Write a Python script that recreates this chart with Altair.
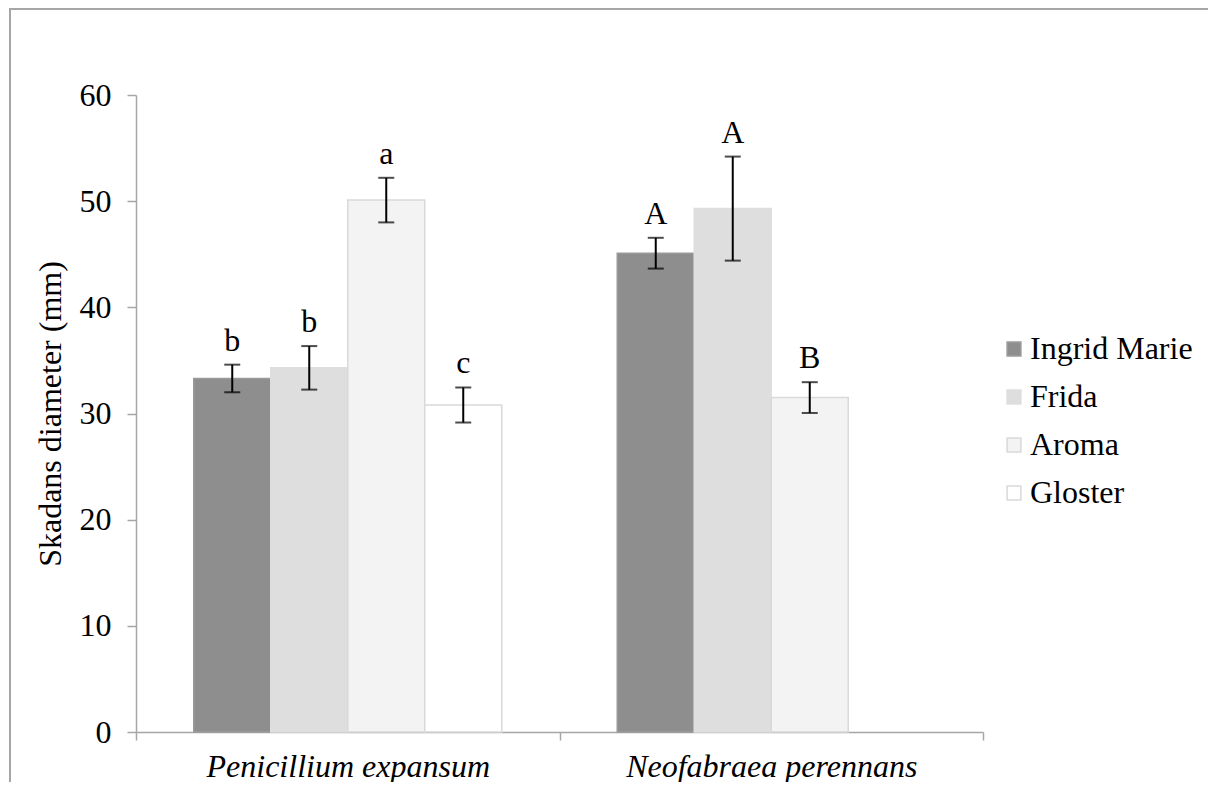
import altair as alt
import pandas as pd

pathogen_order = ["Penicillium expansum", "Neofabraea perennans"]
cultivar_order = ["Ingrid Marie", "Frida", "Aroma", "Gloster"]

pathogens = ["Penicillium expansum"] * 4 + ["Neofabraea perennans"] * 3
cultivars = ["Ingrid Marie", "Frida", "Aroma", "Gloster", "Ingrid Marie", "Frida", "Aroma"]
means = [33.3, 34.3, 50.1, 30.8, 45.1, 49.3, 31.5]
errors = [1.3, 2.05, 2.1, 1.65, 1.45, 4.9, 1.45]
letters = ["b", "b", "a", "c", "A", "A", "B"]

fill_colors = ["#8e8e8e", "#dedede", "#f3f3f3", "#ffffff"]
stroke_colors = ["#9a9a9a", "#dedede", "#d9d9d9", "#d9d9d9"]

df = pd.DataFrame({
    "pathogen": pathogens,
    "cultivar": cultivars,
    "mean": means,
    "err": errors,
    "letter": letters,
})
df["lo"] = df["mean"] - df["err"]
df["hi"] = df["mean"] + df["err"]

FONT = "Liberation Serif"
AXIS_GRAY = "#a6a6a6"
FS = 32

x_enc = alt.X(
    "pathogen:N", sort=pathogen_order,
    scale=alt.Scale(domain=pathogen_order, paddingInner=0, paddingOuter=0),
    axis=alt.Axis(
        title=None, labelAngle=0, labelFontStyle="italic", tickBand="extent",
        tickSize=8, labelPadding=11, labelLimit=600,
    ),
)
xoff_enc = alt.XOffset(
    "cultivar:N", sort=cultivar_order,
    scale=alt.Scale(domain=cultivar_order, paddingInner=0, paddingOuter=0.75),
)
y_scale = alt.Scale(domain=[0, 60], nice=False)
y_axis = alt.Axis(
    title="Skadans diameter (mm)", values=[0, 10, 20, 30, 40, 50, 60],
    tickSize=9, labelPadding=16, titlePadding=12,
)

base = alt.Chart(df).encode(x=x_enc, xOffset=xoff_enc)

bars = base.mark_bar(strokeWidth=1.5).encode(
    y=alt.Y("mean:Q", scale=y_scale, axis=y_axis),
    fill=alt.Fill("cultivar:N", sort=cultivar_order,
                  scale=alt.Scale(domain=cultivar_order, range=fill_colors),
                  legend=alt.Legend(title=None)),
    stroke=alt.Stroke("cultivar:N", sort=cultivar_order,
                      scale=alt.Scale(domain=cultivar_order, range=stroke_colors),
                      legend=alt.Legend(title=None)),
)

err_rule = base.mark_rule(color="black", strokeWidth=2).encode(
    y=alt.Y("lo:Q", scale=y_scale, axis=y_axis), y2="hi:Q"
)
cap_lo = base.mark_tick(color="black", thickness=2, size=16).encode(
    y=alt.Y("lo:Q", scale=y_scale, axis=y_axis)
)
cap_hi = base.mark_tick(color="black", thickness=2, size=16).encode(
    y=alt.Y("hi:Q", scale=y_scale, axis=y_axis)
)
labels = base.mark_text(
    font=FONT, fontSize=FS, color="black", baseline="alphabetic", dy=-14
).encode(y=alt.Y("hi:Q", scale=y_scale, axis=y_axis), text="letter:N")

frame = alt.Chart(pd.DataFrame({"f": [0]})).mark_rect(
    fillOpacity=0, stroke=AXIS_GRAY, strokeWidth=2
).encode(
    x=alt.value(-126), x2=alt.value(1300), y=alt.value(-86), y2=alt.value(900)
)

chart = alt.layer(frame, bars, err_rule, cap_lo, cap_hi, labels).properties(
    width=847, height=637,
    autosize=alt.AutoSizeParams(type="none"),
    padding={"left": 128, "top": 87, "right": 225, "bottom": 50},
).configure(
    font=FONT
).configure_view(
    stroke=None
).configure_axis(
    grid=False, labelFont=FONT, labelFontSize=FS, labelColor="black",
    titleFont=FONT, titleFontSize=FS, titleFontWeight="normal", titleColor="black",
    domainColor=AXIS_GRAY, tickColor=AXIS_GRAY, domainWidth=1.5, tickWidth=1.5,
).configure_legend(
    orient="none", legendX=862, legendY=238,
    symbolType="square", symbolSize=190, symbolStrokeWidth=1.5,
    labelFont=FONT, labelFontSize=FS, labelColor="black", labelLimit=400,
    rowPadding=16, labelOffset=0, padding=0,
)

chart.save("out.html", embed_options={"renderer": "svg", "actions": False})
